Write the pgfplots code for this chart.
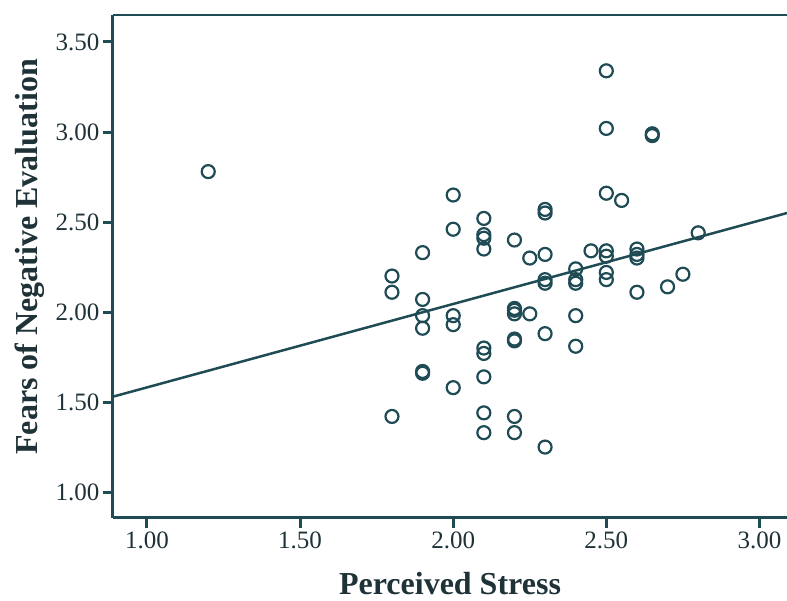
\documentclass[border=0pt]{standalone}
\usepackage{fontspec}
\setmainfont{Liberation Serif}
\usepackage{pgfplots}
\pgfplotsset{compat=1.18}
\definecolor{spss}{HTML}{1F4B55}
\definecolor{txt}{HTML}{1E3238}
\begin{document}
\begin{tikzpicture}
\begin{axis}[
  scale only axis, width=674pt, height=503pt,
  xmin=0.889, xmax=3.09, ymin=0.856, ymax=3.65,
  axis x line*=bottom, axis y line*=left,
  axis line style={spss, line width=3pt, -},
  xtick={1,1.5,2,2.5,3}, xticklabels={1.00,1.50,2.00,2.50,3.00},
  ytick={1,1.5,2,2.5,3,3.5}, yticklabels={1.00,1.50,2.00,2.50,3.00,3.50},
  tick align=outside, major tick length=10pt,
  tick style={spss, line width=3pt},
  ticklabel style={font=\fontsize{25}{25}\selectfont, text=txt},
  xlabel={\textbf{Perceived Stress}},
  xlabel style={font=\fontsize{32}{32}\selectfont, text=txt, at={(axis description cs:0.5,0)}, anchor=center, yshift=-66pt},
  ylabel={\textbf{Fears of Negative Evaluation}},
  ylabel style={font=\fontsize{32}{32}\selectfont, text=txt, at={(axis description cs:-0.1231,0.519)}, anchor=center},
]
\addplot[only marks, mark=o, mark size=6.5pt, spss, mark options={line width=2.2pt}] table {
x y
1.2 2.78
1.8 2.20
1.8 2.11
1.8 1.42
1.9 2.33
1.9 2.07
1.9 1.98
1.9 1.91
1.9 1.67
1.9 1.66
2.0 2.65
2.0 2.46
2.0 1.98
2.0 1.93
2.0 1.58
2.1 2.52
2.1 2.43
2.1 2.41
2.1 2.35
2.1 1.80
2.1 1.77
2.1 1.64
2.1 1.44
2.1 1.33
2.2 2.40
2.2 2.02
2.2 2.01
2.2 1.99
2.2 1.85
2.2 1.84
2.2 1.42
2.2 1.33
2.25 2.30
2.25 1.99
2.3 2.57
2.3 2.55
2.3 2.32
2.3 2.18
2.3 2.16
2.3 1.88
2.3 1.25
2.4 2.24
2.4 2.18
2.4 2.16
2.4 1.98
2.4 1.81
2.45 2.34
2.5 3.34
2.5 3.02
2.5 2.66
2.5 2.34
2.5 2.31
2.5 2.22
2.5 2.18
2.55 2.62
2.6 2.35
2.6 2.32
2.6 2.30
2.6 2.11
2.65 2.99
2.65 2.98
2.7 2.14
2.75 2.21
2.8 2.44
};
\addplot[spss, line width=2.5pt] coordinates {(0.889,1.53) (3.09,2.55)};
\draw[spss, line width=3pt] (rel axis cs:0,1) -- (rel axis cs:1,1);
\coordinate (ll) at (rel axis cs:0,0);
\coordinate (ur) at (rel axis cs:1,1);
\end{axis}
\pgfresetboundingbox
\path ([shift={(-113pt,-83pt)}]ll) rectangle ([shift={(0pt,15pt)}]ur);
\end{tikzpicture}
\end{document}
